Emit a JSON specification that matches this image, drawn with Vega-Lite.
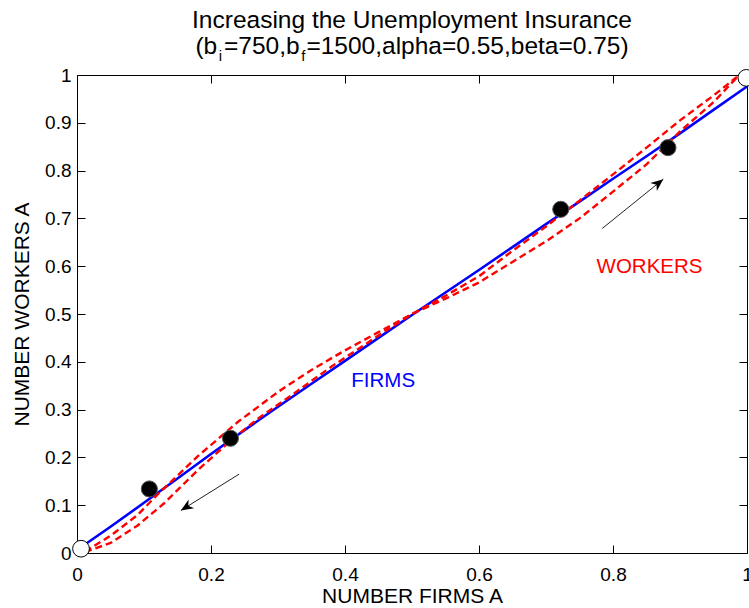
{
  "$schema": "https://vega.github.io/schema/vega-lite/v6.json",
  "width": 670,
  "height": 478,
  "autosize": {"type": "none"},
  "padding": {"left": 77, "top": 75, "right": 2, "bottom": 55},
  "background": "white",
  "config": {
    "view": {"stroke": null},
    "font": "Liberation Sans"
  },
  "title": {
    "text": ["Increasing the Unemployment Insurance", "(b =750,b =1500,alpha=0.55,beta=0.75)"],
    "subtitle": "\u2800i\u00a0\u00a0\u00a0\u00a0\u00a0\u00a0\u00a0\u00a0\u00a0\u00a0\u00a0\u00a0\u00a0\u00a0\u00a0\u00a0\u00a0\u00a0\u00a0f\u00a0\u00a0\u00a0\u00a0\u00a0\u00a0\u00a0\u00a0\u00a0\u00a0\u00a0\u00a0\u00a0\u00a0\u00a0\u00a0\u00a0\u00a0\u00a0\u00a0\u00a0\u00a0\u00a0\u00a0\u00a0\u00a0\u00a0\u00a0\u00a0\u00a0\u00a0\u00a0\u00a0\u00a0\u00a0\u00a0\u00a0\u00a0\u00a0\u00a0\u00a0\u00a0\u00a0\u00a0\u00a0\u00a0\u00a0\u00a0\u00a0\u00a0\u00a0\u00a0\u00a0\u00a0\u00a0\u00a0\u00a0\u00a0\u00a0\u00a0\u00a0\u00a0\u00a0\u00a0\u00a0\u00a0\u00a0\u00a0\u00a0\u00a0\u00a0\u00a0\u2800",
    "font": "Liberation Sans",
    "fontSize": 24.5,
    "fontWeight": "normal",
    "color": "black",
    "lineHeight": 26,
    "subtitleFont": "Liberation Sans",
    "subtitleFontSize": 15,
    "subtitleColor": "black",
    "subtitlePadding": -10,
    "anchor": "middle",
    "frame": "group",
    "offset": 1
  },
  "datasets": {
    "curves": [
      {"series": "firms", "x": 0.008, "y": 0.014},
      {"series": "firms", "x": 0.05, "y": 0.055},
      {"series": "firms", "x": 0.1, "y": 0.105},
      {"series": "firms", "x": 0.15, "y": 0.156},
      {"series": "firms", "x": 0.2, "y": 0.207},
      {"series": "firms", "x": 0.25, "y": 0.257},
      {"series": "firms", "x": 0.3, "y": 0.306},
      {"series": "firms", "x": 0.35, "y": 0.354},
      {"series": "firms", "x": 0.4, "y": 0.402},
      {"series": "firms", "x": 0.45, "y": 0.45},
      {"series": "firms", "x": 0.5, "y": 0.498},
      {"series": "firms", "x": 0.55, "y": 0.545},
      {"series": "firms", "x": 0.6, "y": 0.592},
      {"series": "firms", "x": 0.65, "y": 0.64},
      {"series": "firms", "x": 0.7, "y": 0.688},
      {"series": "firms", "x": 0.75, "y": 0.735},
      {"series": "firms", "x": 0.8, "y": 0.783},
      {"series": "firms", "x": 0.85, "y": 0.83},
      {"series": "firms", "x": 0.9, "y": 0.878},
      {"series": "firms", "x": 0.95, "y": 0.927},
      {"series": "firms", "x": 1.0, "y": 0.976},
      {"series": "workers1", "x": 0.012, "y": 0.003},
      {"series": "workers1", "x": 0.05, "y": 0.036},
      {"series": "workers1", "x": 0.09, "y": 0.079},
      {"series": "workers1", "x": 0.12, "y": 0.122},
      {"series": "workers1", "x": 0.18, "y": 0.202},
      {"series": "workers1", "x": 0.24, "y": 0.274},
      {"series": "workers1", "x": 0.3, "y": 0.337},
      {"series": "workers1", "x": 0.35, "y": 0.383},
      {"series": "workers1", "x": 0.4, "y": 0.424},
      {"series": "workers1", "x": 0.45, "y": 0.462},
      {"series": "workers1", "x": 0.5, "y": 0.5},
      {"series": "workers1", "x": 0.55, "y": 0.532},
      {"series": "workers1", "x": 0.6, "y": 0.566},
      {"series": "workers1", "x": 0.65, "y": 0.609},
      {"series": "workers1", "x": 0.7, "y": 0.652},
      {"series": "workers1", "x": 0.75, "y": 0.7},
      {"series": "workers1", "x": 0.8, "y": 0.756},
      {"series": "workers1", "x": 0.85, "y": 0.813},
      {"series": "workers1", "x": 0.9, "y": 0.882},
      {"series": "workers1", "x": 0.95, "y": 0.943},
      {"series": "workers1", "x": 0.985, "y": 0.995},
      {"series": "workers2", "x": 0.012, "y": 0.002},
      {"series": "workers2", "x": 0.05, "y": 0.021},
      {"series": "workers2", "x": 0.09, "y": 0.057},
      {"series": "workers2", "x": 0.13, "y": 0.104},
      {"series": "workers2", "x": 0.18, "y": 0.173},
      {"series": "workers2", "x": 0.23, "y": 0.236},
      {"series": "workers2", "x": 0.27, "y": 0.281},
      {"series": "workers2", "x": 0.32, "y": 0.33},
      {"series": "workers2", "x": 0.38, "y": 0.39},
      {"series": "workers2", "x": 0.45, "y": 0.455},
      {"series": "workers2", "x": 0.5, "y": 0.5},
      {"series": "workers2", "x": 0.55, "y": 0.538},
      {"series": "workers2", "x": 0.6, "y": 0.579},
      {"series": "workers2", "x": 0.65, "y": 0.632},
      {"series": "workers2", "x": 0.7, "y": 0.683},
      {"series": "workers2", "x": 0.75, "y": 0.737},
      {"series": "workers2", "x": 0.8, "y": 0.792},
      {"series": "workers2", "x": 0.85, "y": 0.848},
      {"series": "workers2", "x": 0.9, "y": 0.905},
      {"series": "workers2", "x": 0.95, "y": 0.957},
      {"series": "workers2", "x": 0.985, "y": 0.996}
    ],
    "equilibria": [
      {"kind": "stable", "x": 0.108, "y": 0.134},
      {"kind": "stable", "x": 0.229, "y": 0.24},
      {"kind": "stable", "x": 0.722, "y": 0.719},
      {"kind": "stable", "x": 0.882, "y": 0.848},
      {"kind": "corner", "x": 0.006, "y": 0.009},
      {"kind": "corner", "x": 0.999, "y": 0.994}
    ],
    "arrows": [
      {"id": 1, "x": 0.242, "y": 0.165, "x2": 0.155, "y2": 0.089},
      {"id": 2, "x": 0.784, "y": 0.679, "x2": 0.875, "y2": 0.782}
    ],
    "labels": [
      {"label": "FIRMS", "x": 0.457, "y": 0.359},
      {"label": "WORKERS", "x": 0.8545, "y": 0.598}
    ]
  },
  "resolve": {"axis": {"x": "independent", "y": "independent"}},
  "layer": [
    {
      "data": {"name": "curves"},
      "transform": [{"filter": "datum.series === 'firms'"}],
      "mark": {"type": "line", "color": "#0000ff", "strokeWidth": 2.6},
      "encoding": {
        "x": {
          "field": "x", "type": "quantitative",
          "scale": {"domain": [0, 1], "nice": false, "zero": false},
          "axis": {
            "orient": "bottom", "title": "NUMBER FIRMS A",
            "values": [0, 0.2, 0.4, 0.6, 0.8, 1], "format": ".1~f",
            "grid": false, "tickSize": -8, "tickColor": "black", "tickWidth": 1,
            "domainColor": "black", "domainWidth": 1,
            "labelFont": "Liberation Sans", "labelFontSize": 19, "labelColor": "black",
            "labelPadding": 20, "labelFlush": false, "labelOverlap": false,
            "titleFont": "Liberation Sans", "titleFontSize": 21, "titleFontWeight": "normal",
            "titleColor": "black", "titlePadding": 1
          }
        },
        "y": {
          "field": "y", "type": "quantitative",
          "scale": {"domain": [0, 1], "nice": false, "zero": false},
          "axis": {
            "orient": "left", "title": "NUMBER WORKERS A",
            "values": [0, 0.1, 0.2, 0.3, 0.4, 0.5, 0.6, 0.7, 0.8, 0.9, 1], "format": ".1~f",
            "grid": false, "tickSize": -8, "tickColor": "black", "tickWidth": 1,
            "domainColor": "black", "domainWidth": 1,
            "labelFont": "Liberation Sans", "labelFontSize": 19, "labelColor": "black",
            "labelPadding": 14, "labelFlush": false, "labelOverlap": false,
            "titleFont": "Liberation Sans", "titleFontSize": 21, "titleFontWeight": "normal",
            "titleColor": "black", "titlePadding": 12
          }
        }
      }
    },
    {
      "data": {"name": "curves"},
      "transform": [{"filter": "datum.series !== 'firms'"}],
      "mark": {"type": "line", "color": "#ff0000", "strokeWidth": 2.4, "strokeDash": [7, 4]},
      "encoding": {
        "detail": {"field": "series"},
        "x": {
          "field": "x", "type": "quantitative",
          "scale": {"domain": [0, 1], "nice": false, "zero": false},
          "axis": {
            "orient": "top", "title": null, "labels": false,
            "values": [0, 0.2, 0.4, 0.6, 0.8, 1],
            "grid": false, "tickSize": -8, "tickColor": "black", "tickWidth": 1,
            "domainColor": "black", "domainWidth": 1
          }
        },
        "y": {
          "field": "y", "type": "quantitative",
          "scale": {"domain": [0, 1], "nice": false, "zero": false},
          "axis": {
            "orient": "right", "title": null, "labels": false,
            "values": [0, 0.1, 0.2, 0.3, 0.4, 0.5, 0.6, 0.7, 0.8, 0.9, 1],
            "grid": false, "tickSize": -8, "tickColor": "black", "tickWidth": 1,
            "domainColor": "black", "domainWidth": 1
          }
        }
      }
    },
    {
      "data": {"name": "arrows"},
      "mark": {"type": "rule", "color": "#222222", "strokeWidth": 1},
      "encoding": {
        "x": {"field": "x", "type": "quantitative", "scale": {"domain": [0, 1], "nice": false, "zero": false}, "axis": null},
        "y": {"field": "y", "type": "quantitative", "scale": {"domain": [0, 1], "nice": false, "zero": false}, "axis": null},
        "x2": {"field": "x2"},
        "y2": {"field": "y2"}
      }
    },
    {
      "data": {"name": "arrows"},
      "transform": [{"filter": "datum.id === 1"}],
      "mark": {"type": "point", "shape": "M0,0L-0.42,1L0,0.7L0.42,1Z", "filled": true, "color": "black", "size": 620, "angle": 238, "opacity": 1},
      "encoding": {
        "x": {"field": "x2", "type": "quantitative", "scale": {"domain": [0, 1], "nice": false, "zero": false}, "axis": null},
        "y": {"field": "y2", "type": "quantitative", "scale": {"domain": [0, 1], "nice": false, "zero": false}, "axis": null}
      }
    },
    {
      "data": {"name": "arrows"},
      "transform": [{"filter": "datum.id === 2"}],
      "mark": {"type": "point", "shape": "M0,0L-0.42,1L0,0.7L0.42,1Z", "filled": true, "color": "black", "size": 620, "angle": 51, "opacity": 1},
      "encoding": {
        "x": {"field": "x2", "type": "quantitative", "scale": {"domain": [0, 1], "nice": false, "zero": false}, "axis": null},
        "y": {"field": "y2", "type": "quantitative", "scale": {"domain": [0, 1], "nice": false, "zero": false}, "axis": null}
      }
    },
    {
      "data": {"name": "equilibria"},
      "transform": [{"filter": "datum.kind === 'stable'"}],
      "mark": {"type": "point", "shape": "circle", "filled": true, "fill": "black", "stroke": "#555555", "strokeWidth": 1, "size": 260, "opacity": 1},
      "encoding": {
        "x": {"field": "x", "type": "quantitative", "scale": {"domain": [0, 1], "nice": false, "zero": false}, "axis": null},
        "y": {"field": "y", "type": "quantitative", "scale": {"domain": [0, 1], "nice": false, "zero": false}, "axis": null}
      }
    },
    {
      "data": {"name": "equilibria"},
      "transform": [{"filter": "datum.kind === 'corner'"}],
      "mark": {"type": "point", "shape": "circle", "filled": true, "fill": "white", "stroke": "black", "strokeWidth": 1, "size": 280, "opacity": 1},
      "encoding": {
        "x": {"field": "x", "type": "quantitative", "scale": {"domain": [0, 1], "nice": false, "zero": false}, "axis": null},
        "y": {"field": "y", "type": "quantitative", "scale": {"domain": [0, 1], "nice": false, "zero": false}, "axis": null}
      }
    },
    {
      "data": {"name": "labels"},
      "mark": {"type": "text", "font": "Liberation Sans", "fontSize": 20.5, "align": "center", "baseline": "middle"},
      "encoding": {
        "x": {"field": "x", "type": "quantitative", "scale": {"domain": [0, 1], "nice": false, "zero": false}, "axis": null},
        "y": {"field": "y", "type": "quantitative", "scale": {"domain": [0, 1], "nice": false, "zero": false}, "axis": null},
        "text": {"field": "label"},
        "color": {"field": "label", "type": "nominal", "scale": {"domain": ["FIRMS", "WORKERS"], "range": ["#0000ff", "#ff0000"]}, "legend": null}
      }
    }
  ]
}
